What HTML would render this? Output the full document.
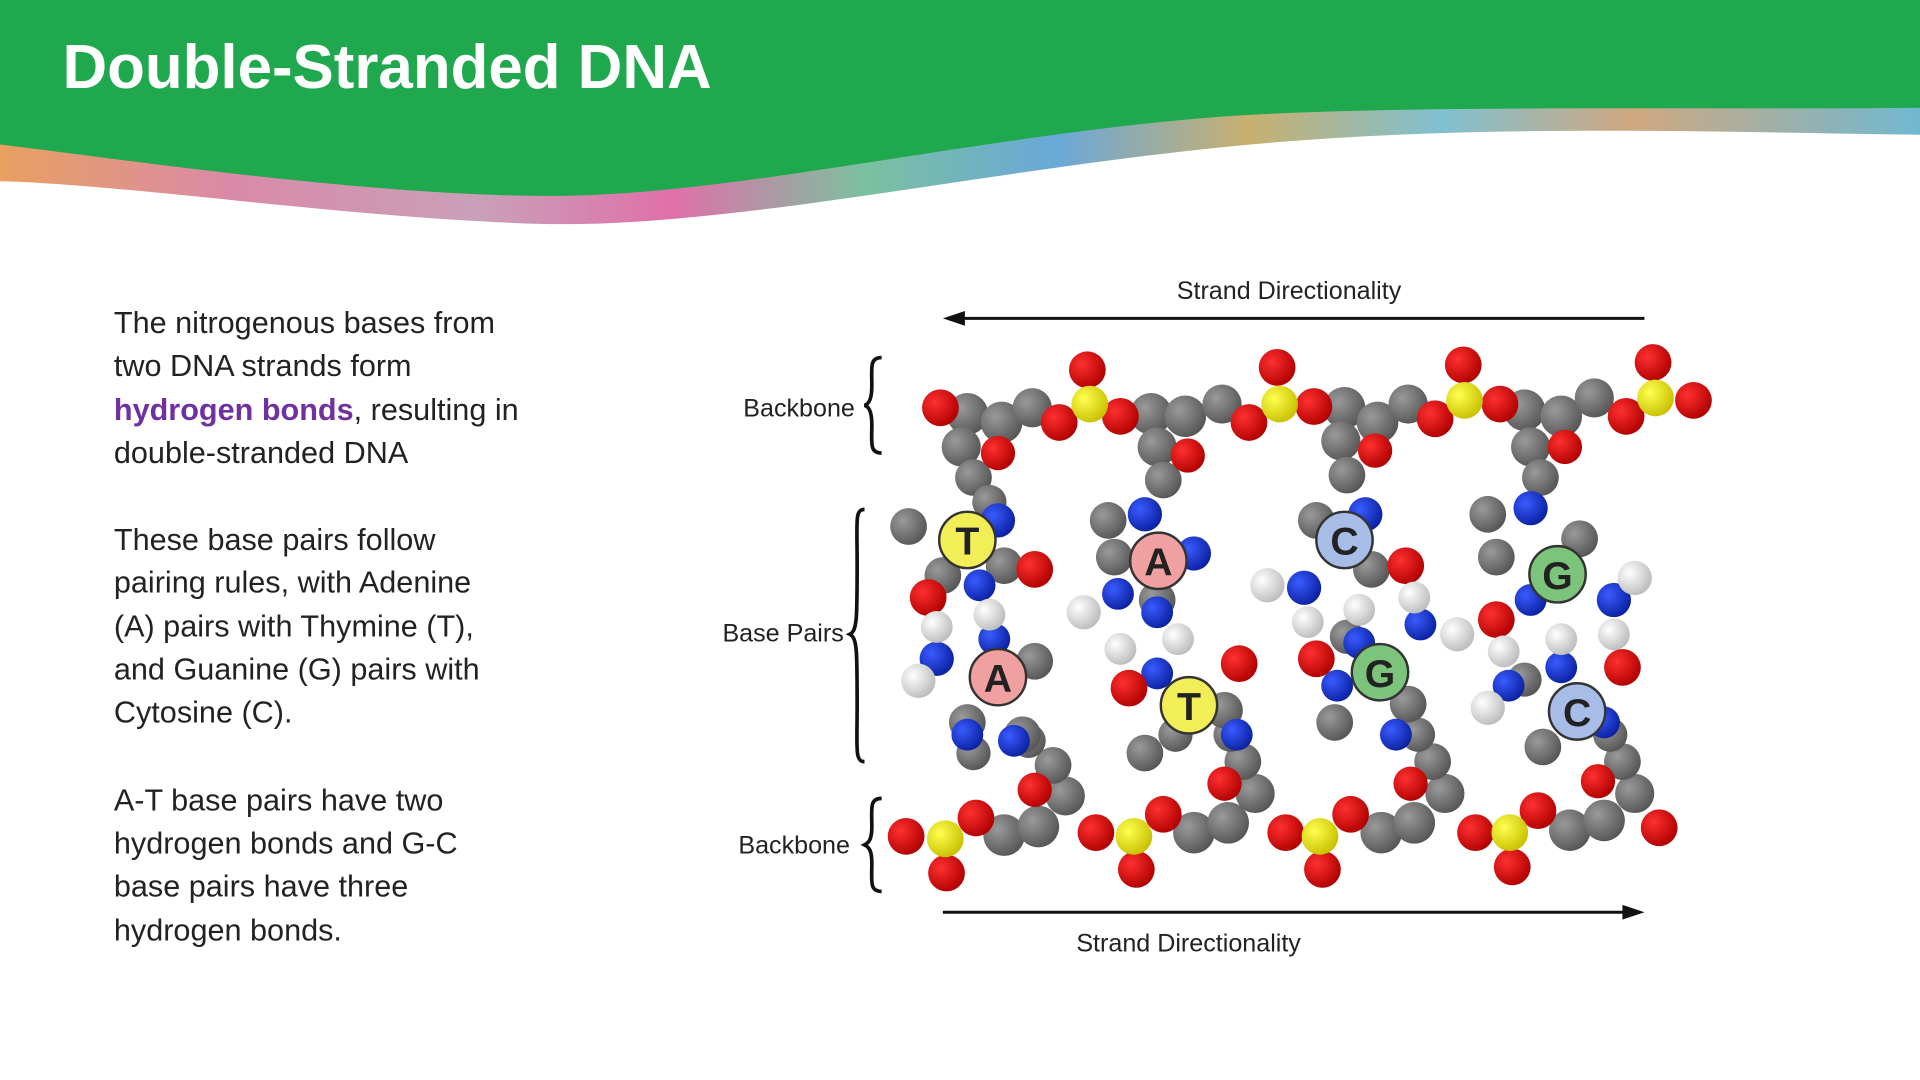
<!DOCTYPE html>
<html><head><meta charset="utf-8"><style>
html,body{margin:0;padding:0;background:#fff;width:1920px;height:1080px;overflow:hidden}
svg{display:block}
text{font-family:"Liberation Sans",sans-serif}
</style></head><body>
<svg width="1920" height="1080" viewBox="0 0 1568 882" xmlns="http://www.w3.org/2000/svg">
<defs>
<linearGradient id="strip" x1="0" x2="1" y1="0" y2="0">
<stop offset="0" stop-color="#e9a060"/><stop offset="0.12" stop-color="#d98aa8"/>
<stop offset="0.25" stop-color="#c9a0b8"/><stop offset="0.35" stop-color="#e070a8"/>
<stop offset="0.45" stop-color="#7cc0a0"/><stop offset="0.55" stop-color="#6aa8d8"/>
<stop offset="0.65" stop-color="#c8b070"/><stop offset="0.75" stop-color="#80c0d0"/>
<stop offset="0.85" stop-color="#d0a880"/><stop offset="1" stop-color="#70b8d0"/>
</linearGradient>
<radialGradient id="gr" cx="0.35" cy="0.35" r="0.7"><stop offset="0" stop-color="#9a9a9a"/><stop offset="1" stop-color="#555"/></radialGradient>
<radialGradient id="rd" cx="0.35" cy="0.35" r="0.7"><stop offset="0" stop-color="#ff3030"/><stop offset="1" stop-color="#b00000"/></radialGradient>
<radialGradient id="yl" cx="0.35" cy="0.35" r="0.7"><stop offset="0" stop-color="#ffff50"/><stop offset="1" stop-color="#c8c000"/></radialGradient>
<radialGradient id="bl" cx="0.35" cy="0.35" r="0.7"><stop offset="0" stop-color="#3a5cff"/><stop offset="1" stop-color="#0a20a0"/></radialGradient>
<radialGradient id="wh" cx="0.35" cy="0.35" r="0.7"><stop offset="0" stop-color="#fff"/><stop offset="1" stop-color="#bbb"/></radialGradient>
</defs>
<path d="M0 0H1568V110C1400 108 1200 100 1000 120C800 140 600 185 450 183C300 180 100 150 0 148Z" fill="url(#strip)"/>
<path d="M0 0H1568V88C1400 90 1150 85 1000 95C800 110 600 160 450 160C300 160 100 130 0 118Z" fill="#1fa84e"/>
<text x="51" y="72" font-size="50.5" font-weight="bold" fill="#fff">Double-Stranded DNA</text>
<g font-size="25" fill="#222">
<text x="93" y="272">The nitrogenous bases from</text>
<text x="93" y="307">two DNA strands form</text>
<text x="93" y="343"><tspan fill="#7030a0" font-weight="bold">hydrogen bonds</tspan>, resulting in</text>
<text x="93" y="378">double-stranded DNA</text>
<text x="93" y="449">These base pairs follow</text>
<text x="93" y="484">pairing rules, with Adenine</text>
<text x="93" y="520">(A) pairs with Thymine (T),</text>
<text x="93" y="555">and Guanine (G) pairs with</text>
<text x="93" y="590">Cytosine (C).</text>
<text x="93" y="662">A-T base pairs have two</text>
<text x="93" y="697">hydrogen bonds and G-C</text>
<text x="93" y="732">base pairs have three</text>
<text x="93" y="768">hydrogen bonds.</text>
</g>
<g font-size="20.5" fill="#222">
<text x="961" y="244">Strand Directionality</text>
<text x="879" y="777">Strand Directionality</text>
<text x="607" y="340">Backbone</text>
<text x="590" y="524">Base Pairs</text>
<text x="603" y="697">Backbone</text>
</g>
<line x1="780" y1="260" x2="1343" y2="260" stroke="#111" stroke-width="2.5"/>
<path d="M770 260L788 254L788 266Z" fill="#111"/>
<line x1="770" y1="745" x2="1333" y2="745" stroke="#111" stroke-width="2.5"/>
<path d="M1343 745L1325 739L1325 751Z" fill="#111"/>
<g fill="none" stroke="#111" stroke-width="3">
<path d="M720 292C710 292 712 300 712 315C712 325 710 330 706 331C710 332 712 337 712 347C712 362 710 370 720 370"/>
<path d="M706 416C698 416 700 425 700 460C700 505 700 515 694 518C700 521 700 531 700 576C700 612 698 622 706 622"/>
<path d="M720 652C710 652 712 660 712 675C712 685 710 688 706 690C710 692 712 695 712 705C712 720 710 728 720 728"/>
</g>
<g id="mol">
<g fill="url(#gr)">
<circle cx="790" cy="338" r="17"/><circle cx="818" cy="345" r="17"/><circle cx="843" cy="333" r="16"/><circle cx="785" cy="365" r="16"/><circle cx="795" cy="390" r="15"/><circle cx="808" cy="410" r="14"/>
<circle cx="940" cy="338" r="17"/><circle cx="968" cy="340" r="17"/><circle cx="998" cy="330" r="16"/><circle cx="945" cy="365" r="16"/><circle cx="950" cy="392" r="15"/>
<circle cx="1098" cy="333" r="17"/><circle cx="1125" cy="345" r="17"/><circle cx="1150" cy="330" r="16"/><circle cx="1095" cy="360" r="16"/><circle cx="1100" cy="388" r="15"/>
<circle cx="1245" cy="335" r="17"/><circle cx="1275" cy="340" r="17"/><circle cx="1302" cy="325" r="16"/><circle cx="1250" cy="365" r="16"/><circle cx="1258" cy="390" r="15"/>
</g>
<g fill="url(#rd)">
<circle cx="768" cy="333" r="15"/><circle cx="815" cy="370" r="14"/><circle cx="865" cy="345" r="15"/><circle cx="888" cy="302" r="15"/><circle cx="915" cy="340" r="15"/>
<circle cx="1020" cy="345" r="15"/><circle cx="1043" cy="300" r="15"/><circle cx="1073" cy="332" r="15"/><circle cx="970" cy="372" r="14"/>
<circle cx="1172" cy="342" r="15"/><circle cx="1195" cy="298" r="15"/><circle cx="1225" cy="330" r="15"/><circle cx="1123" cy="368" r="14"/>
<circle cx="1328" cy="340" r="15"/><circle cx="1350" cy="296" r="15"/><circle cx="1383" cy="327" r="15"/><circle cx="1278" cy="365" r="14"/>
</g>
<g fill="url(#yl)"><circle cx="890" cy="330" r="15"/><circle cx="1045" cy="330" r="15"/><circle cx="1196" cy="327" r="15"/><circle cx="1352" cy="325" r="15"/></g>
<g fill="url(#gr)">
<circle cx="820" cy="682" r="17"/><circle cx="848" cy="675" r="17"/><circle cx="870" cy="650" r="16"/><circle cx="860" cy="625" r="15"/><circle cx="840" cy="605" r="14"/>
<circle cx="975" cy="680" r="17"/><circle cx="1003" cy="672" r="17"/><circle cx="1025" cy="648" r="16"/><circle cx="1015" cy="622" r="15"/><circle cx="1005" cy="600" r="14"/>
<circle cx="1128" cy="680" r="17"/><circle cx="1155" cy="672" r="17"/><circle cx="1180" cy="648" r="16"/><circle cx="1170" cy="622" r="15"/><circle cx="1158" cy="600" r="14"/>
<circle cx="1282" cy="678" r="17"/><circle cx="1310" cy="670" r="17"/><circle cx="1335" cy="648" r="16"/><circle cx="1325" cy="622" r="15"/><circle cx="1315" cy="600" r="14"/>
</g>
<g fill="url(#rd)">
<circle cx="740" cy="683" r="15"/><circle cx="773" cy="713" r="15"/><circle cx="797" cy="668" r="15"/><circle cx="845" cy="645" r="14"/>
<circle cx="895" cy="680" r="15"/><circle cx="928" cy="710" r="15"/><circle cx="950" cy="665" r="15"/><circle cx="1000" cy="640" r="14"/>
<circle cx="1050" cy="680" r="15"/><circle cx="1080" cy="710" r="15"/><circle cx="1103" cy="665" r="15"/><circle cx="1152" cy="640" r="14"/>
<circle cx="1205" cy="680" r="15"/><circle cx="1235" cy="708" r="15"/><circle cx="1256" cy="662" r="15"/><circle cx="1355" cy="676" r="15"/><circle cx="1305" cy="638" r="14"/>
</g>
<g fill="url(#yl)"><circle cx="772" cy="685" r="15"/><circle cx="926" cy="683" r="15"/><circle cx="1078" cy="683" r="15"/><circle cx="1233" cy="680" r="15"/></g>
<g fill="url(#gr)"><circle cx="742" cy="430" r="15"/><circle cx="770" cy="470" r="15"/><circle cx="820" cy="462" r="15"/><circle cx="790" cy="590" r="15"/><circle cx="835" cy="600" r="15"/><circle cx="845" cy="540" r="15"/><circle cx="795" cy="615" r="14"/></g>
<g fill="url(#bl)"><circle cx="815" cy="425" r="14"/><circle cx="800" cy="478" r="13"/><circle cx="765" cy="538" r="14"/><circle cx="790" cy="600" r="13"/><circle cx="812" cy="522" r="13"/><circle cx="828" cy="605" r="13"/></g>
<g fill="url(#rd)"><circle cx="845" cy="465" r="15"/><circle cx="758" cy="488" r="15"/></g>
<g fill="url(#wh)"><circle cx="808" cy="502" r="13"/><circle cx="765" cy="512" r="13"/><circle cx="750" cy="556" r="14"/></g>
<g fill="url(#gr)"><circle cx="905" cy="425" r="15"/><circle cx="910" cy="455" r="15"/><circle cx="945" cy="490" r="15"/><circle cx="1000" cy="580" r="15"/><circle cx="935" cy="615" r="15"/><circle cx="960" cy="600" r="14"/></g>
<g fill="url(#bl)"><circle cx="935" cy="420" r="14"/><circle cx="975" cy="452" r="14"/><circle cx="913" cy="485" r="13"/><circle cx="945" cy="500" r="13"/><circle cx="945" cy="550" r="13"/><circle cx="1010" cy="600" r="13"/></g>
<g fill="url(#rd)"><circle cx="922" cy="562" r="15"/><circle cx="1012" cy="542" r="15"/></g>
<g fill="url(#wh)"><circle cx="885" cy="500" r="14"/><circle cx="915" cy="530" r="13"/><circle cx="962" cy="522" r="13"/></g>
<g fill="url(#gr)"><circle cx="1075" cy="425" r="15"/><circle cx="1120" cy="465" r="15"/><circle cx="1090" cy="590" r="15"/><circle cx="1150" cy="575" r="15"/><circle cx="1100" cy="520" r="14"/></g>
<g fill="url(#bl)"><circle cx="1115" cy="420" r="14"/><circle cx="1065" cy="480" r="14"/><circle cx="1160" cy="510" r="13"/><circle cx="1092" cy="560" r="13"/><circle cx="1140" cy="600" r="13"/><circle cx="1110" cy="525" r="13"/></g>
<g fill="url(#rd)"><circle cx="1148" cy="462" r="15"/><circle cx="1075" cy="538" r="15"/></g>
<g fill="url(#wh)"><circle cx="1035" cy="478" r="14"/><circle cx="1068" cy="508" r="13"/><circle cx="1110" cy="498" r="13"/><circle cx="1155" cy="488" r="13"/><circle cx="1190" cy="518" r="14"/></g>
<g fill="url(#gr)"><circle cx="1215" cy="420" r="15"/><circle cx="1222" cy="455" r="15"/><circle cx="1290" cy="440" r="15"/><circle cx="1260" cy="610" r="15"/><circle cx="1245" cy="555" r="14"/></g>
<g fill="url(#bl)"><circle cx="1250" cy="415" r="14"/><circle cx="1318" cy="490" r="14"/><circle cx="1250" cy="490" r="13"/><circle cx="1275" cy="545" r="13"/><circle cx="1232" cy="560" r="13"/><circle cx="1310" cy="590" r="13"/></g>
<g fill="url(#rd)"><circle cx="1222" cy="506" r="15"/><circle cx="1325" cy="545" r="15"/></g>
<g fill="url(#wh)"><circle cx="1335" cy="472" r="14"/><circle cx="1228" cy="532" r="13"/><circle cx="1275" cy="522" r="13"/><circle cx="1318" cy="518" r="13"/><circle cx="1215" cy="578" r="14"/></g>
</g>
<g stroke="#333" stroke-width="2">
<circle cx="790" cy="441" r="23" fill="#f2ee58"/>
<circle cx="815" cy="553" r="23" fill="#f0a0a0"/>
<circle cx="946" cy="458" r="23" fill="#f0a0a0"/>
<circle cx="971" cy="576" r="23" fill="#f2ee58"/>
<circle cx="1098" cy="441" r="23" fill="#a8bce8"/>
<circle cx="1127" cy="549" r="23" fill="#7cc47c"/>
<circle cx="1272" cy="469" r="23" fill="#7cc47c"/>
<circle cx="1288" cy="581" r="23" fill="#a8bce8"/>
</g>
<g font-size="32" font-weight="bold" fill="#222" text-anchor="middle">
<text x="790" y="453">T</text><text x="815" y="565">A</text><text x="946" y="470">A</text><text x="971" y="588">T</text>
<text x="1098" y="453">C</text><text x="1127" y="561">G</text><text x="1272" y="481">G</text><text x="1288" y="593">C</text>
</g>
</svg>
</body></html>
